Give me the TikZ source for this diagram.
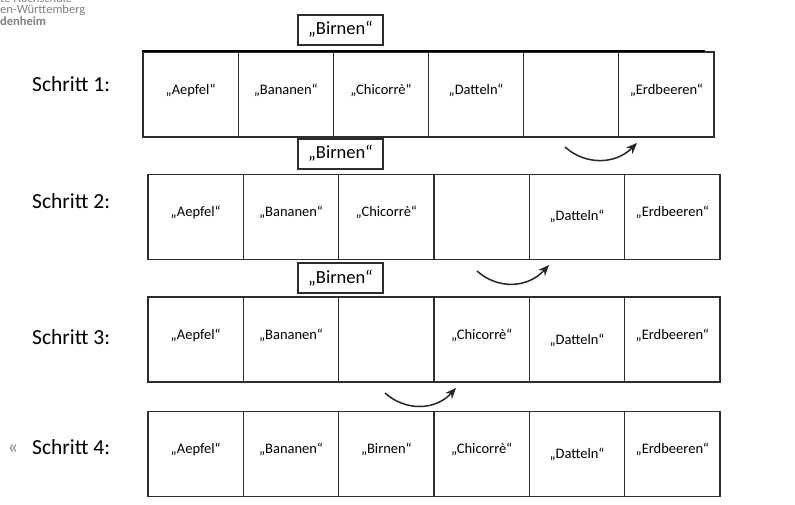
\documentclass[tikz,border=0pt]{standalone}
\usepackage{fontspec}
\setmainfont{Carlito}
\usetikzlibrary{arrows.meta}
\definecolor{logogray}{RGB}{128,128,128}
\definecolor{linegray}{RGB}{45,45,45}
\tikzset{
  cellbox/.style={draw=linegray, line width=1.2pt, rectangle, inner sep=0pt, minimum height=85pt},
  item/.style={font=\fontsize{14.5}{16}\selectfont, inner sep=0pt, anchor=base},
  stepname/.style={font=\fontsize{21.5}{24}\selectfont, inner sep=0pt, anchor=base west},
  birnbox/.style={draw=linegray, line width=1.1pt, rectangle, inner sep=0pt, minimum width=85pt, minimum height=30pt},
  birntext/.style={font=\fontsize{18.5}{20}\selectfont, inner sep=0pt, anchor=base},
  logotext/.style={font=\fontsize{12.5}{14}\selectfont, text=logogray, inner sep=0pt, anchor=base west},
  movearrow/.style={line width=1.5pt, black!85, -{Stealth[length=11pt,width=9pt]}}
}
\begin{document}
\begin{tikzpicture}[x=1pt,y=-1pt]
\useasboundingbox (0,0) rectangle (795,505);
\fill[white] (0,0) rectangle (795,505);

% logo fragments as the picture shows them
\node[logotext] (logo1) at (0,3) {te Hochschule};
\node[logotext] (logo2) at (0,14) {en-Württemberg};
\node[logotext, font=\fontsize{12.5}{14}\selectfont\bfseries] (logo3) at (0,26) {denheim};

% step labels
\node[stepname] (s1) at (32,92) {Schritt 1:};
\node[stepname] (s2) at (32,208) {Schritt 2:};
\node[stepname] (s3) at (32,344) {Schritt 3:};
\node[stepname] (s4) at (32,454) {Schritt 4:};
\node[font=\fontsize{20}{22}\selectfont, text=logogray, inner sep=0pt, anchor=base] (guil) at (13,453) {«};

% row 1
\foreach \c in {1,...,6} {
  \node[cellbox, minimum width=95.17pt] (r1c\c) at ({143+95.17*(\c-0.5)},94.5) {};
}
\draw[black, line width=1.8pt] (r1c1.north west) -- ([xshift=-10pt]r1c6.north east);
\node[item] (t11) at (r1c1 |- 0,95) {„Aepfel“};
\node[item] (t12) at (r1c2 |- 0,95) {„Bananen“};
\node[item] (t13) at (r1c3 |- 0,95) {„Chicorrè“};
\node[item] (t14) at (r1c4 |- 0,95) {„Datteln“};
\node[item] (t16) at (r1c6 |- 0,95) {„Erdbeeren“};

% rows 2-4
\foreach \r/\y in {2/217, 3/339.5, 4/454} {
  \foreach \c in {1,...,6} {
    \node[cellbox, minimum width=95.33pt] (r\r c\c) at ({148+95.33*(\c-0.5)},\y) {};
  }
}
% row 2 texts
\node[item] (t21) at (r2c1 |- 0,217) {„Aepfel“};
\node[item] (t22) at (r2c2 |- 0,217) {„Bananen“};
\node[item] (t23) at (r2c3 |- 0,217) {„Chicorrè“};
\node[item] (t25) at (r2c5 |- 0,221) {„Datteln“};
\node[item] (t26) at (r2c6 |- 0,217) {„Erdbeeren“};
% row 3 texts
\node[item] (t31) at (r3c1 |- 0,339) {„Aepfel“};
\node[item] (t32) at (r3c2 |- 0,339) {„Bananen“};
\node[item] (t34) at (r3c4 |- 0,339) {„Chicorrè“};
\node[item] (t35) at (r3c5 |- 0,344) {„Datteln“};
\node[item] (t36) at (r3c6 |- 0,339) {„Erdbeeren“};
% row 4 texts
\node[item] (t41) at (r4c1 |- 0,453) {„Aepfel“};
\node[item] (t42) at (r4c2 |- 0,453) {„Bananen“};
\node[item] (t43) at (r4c3 |- 0,453) {„Birnen“};
\node[item] (t44) at (r4c4 |- 0,453) {„Chicorrè“};
\node[item] (t45) at (r4c5 |- 0,458) {„Datteln“};
\node[item] (t46) at (r4c6 |- 0,453) {„Erdbeeren“};

% Birnen boxes
\foreach \i/\y in {1/30, 2/154, 3/278} {
  \node[birnbox] (b\i) at (340.5,\y) {};
  \node[birntext] (bt\i) at (340.5,\y+5) {„Birnen“};
}

% move arrows
\coordinate (a1s) at (565,147);
\coordinate (a1e) at (637,143);
\coordinate (a2s) at (477,271);
\coordinate (a2e) at (549,265);
\coordinate (a3s) at (385,393);
\coordinate (a3e) at (456,388);
\draw[movearrow] (a1s) .. controls (585,165) and (615,165) .. (a1e);
\draw[movearrow] (a2s) .. controls (497,289) and (527,289) .. (a2e);
\draw[movearrow] (a3s) .. controls (405,411) and (435,411) .. (a3e);
\end{tikzpicture}
\end{document}
